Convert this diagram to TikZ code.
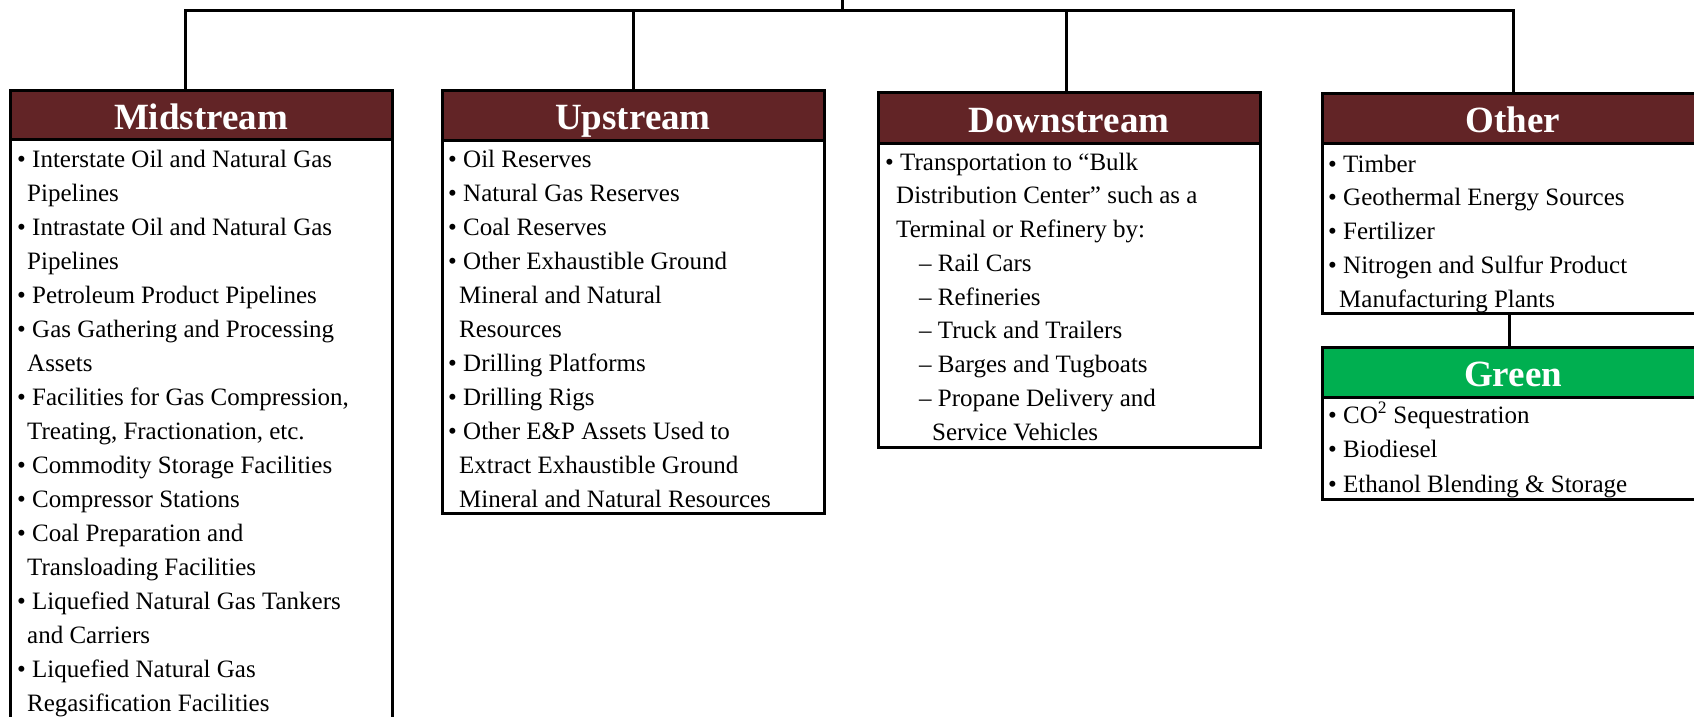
\documentclass[tikz,border=0pt]{standalone}
\usepackage{fontspec}
\setmainfont{Liberation Serif}
\definecolor{hdrred}{HTML}{622426}
\definecolor{hdrgreen}{HTML}{00AF50}
\tikzset{
  boxframe/.style={draw=black, line width=3pt, fill=white, anchor=north west, inner sep=0pt, outer sep=0pt},
  hdr/.style={draw=black, line width=3pt, fill=hdrred, anchor=north west, inner sep=0pt, outer sep=0pt,
    text=white, font=\fontsize{37pt}{40pt}\selectfont\bfseries, text height=29pt, text depth=0pt},
  itemtxt/.style={anchor=base west, inner sep=0pt, font=\fontsize{25pt}{30pt}\selectfont},
  conn/.style={draw=black, line width=3pt},
}
\begin{document}
\begin{tikzpicture}[x=1pt,y=-1pt]
\useasboundingbox (0,0) rectangle (1694,716);
\clip (0,0) rectangle (1694,716);
\fill[white] (0,0) rectangle (1694,716);

% boxes
\node[boxframe, minimum width=382pt, minimum height=650pt] (midbox) at (10,90) {};
\node[hdr, minimum width=382pt, minimum height=49pt] (midhdr) at (10,90) {Midstream};

\node[boxframe, minimum width=382pt, minimum height=423pt] (upbox) at (442,90) {};
\node[hdr, minimum width=382pt, minimum height=50pt] (uphdr) at (442,90) {Upstream};

\node[boxframe, minimum width=382pt, minimum height=355pt] (downbox) at (878,92) {};
\node[hdr, minimum width=382pt, minimum height=51pt] (downhdr) at (878,92) {Downstream};

\node[boxframe, minimum width=382pt, minimum height=220pt] (othbox) at (1322,93) {};
\node[hdr, minimum width=382pt, minimum height=50pt, text depth=1pt] (othhdr) at (1322,93) {Other};

\node[boxframe, minimum width=382pt, minimum height=152pt] (grnbox) at (1322,347) {};
\node[hdr, fill=hdrgreen, minimum width=382pt, minimum height=50pt, text depth=1pt] (grnhdr) at (1322,347) {Green};

% connectors
\coordinate (root) at (842,0);
\coordinate (busL) at (185,10);
\coordinate (busR) at (1513,10);
\coordinate (gx) at (1509,0);
\draw[conn] (root) -- (root |- busL);
\draw[conn, line join=miter] (busL |- midhdr.north) -- (busL) -- (busR) -- (busR |- othhdr.north);
\draw[conn] (uphdr.north) -- (uphdr.north |- busL);
\draw[conn] ([xshift=-3pt]downhdr.north) -- ([xshift=-3pt]downhdr.north |- busL);
\draw[conn] (gx |- othbox.south) -- (gx |- grnhdr.north);

% Midstream items
\foreach [count=\i] \xa/\ta in {
  17/{\textbullet\ Interstate Oil and Natural Gas},
  27/{Pipelines},
  17/{\textbullet\ Intrastate Oil and Natural Gas},
  27/{Pipelines},
  17/{\textbullet\ Petroleum Product Pipelines},
  17/{\textbullet\ Gas Gathering and Processing},
  27/{Assets},
  17/{\textbullet\ Facilities for Gas Compression,},
  27/{Treating, Fractionation, etc.},
  17/{\textbullet\ Commodity Storage Facilities},
  17/{\textbullet\ Compressor Stations},
  17/{\textbullet\ Coal Preparation and},
  27/{Transloading Facilities},
  17/{\textbullet\ Liquefied Natural Gas Tankers},
  27/{and Carriers},
  17/{\textbullet\ Liquefied Natural Gas},
  27/{Regasification Facilities}%
}{\node[itemtxt] (mid-\i) at (\xa,{167+34*(\i-1)}) {\ta};}

% Upstream items
\foreach [count=\i] \xa/\ta in {
  448/{\textbullet\ Oil Reserves},
  448/{\textbullet\ Natural Gas Reserves},
  448/{\textbullet\ Coal Reserves},
  448/{\textbullet\ Other Exhaustible Ground},
  459/{Mineral and Natural},
  459/{Resources},
  448/{\textbullet\ Drilling Platforms},
  448/{\textbullet\ Drilling Rigs},
  448/{\textbullet\ Other E\&P Assets Used to},
  459/{Extract Exhaustible Ground},
  459/{Mineral and Natural Resources}%
}{\node[itemtxt] (up-\i) at (\xa,{167+34*(\i-1)}) {\ta};}

% Downstream items
\foreach [count=\i] \xa/\ta in {
  885/{\textbullet\ Transportation to “Bulk},
  896/{Distribution Center” such as a},
  896/{Terminal or Refinery by:},
  919/{– Rail Cars},
  919/{– Refineries},
  919/{– Truck and Trailers},
  919/{– Barges and Tugboats},
  919/{– Propane Delivery and},
  932/{Service Vehicles}%
}{\node[itemtxt] (down-\i) at (\xa,{170+33.75*(\i-1)}) {\ta};}

% Other items
\foreach [count=\i] \xa/\ta in {
  1328/{\textbullet\ Timber},
  1328/{\textbullet\ Geothermal Energy Sources},
  1328/{\textbullet\ Fertilizer},
  1328/{\textbullet\ Nitrogen and Sulfur Product},
  1339/{Manufacturing Plants}%
}{\node[itemtxt] (oth-\i) at (\xa,{172+33.75*(\i-1)}) {\ta};}

% Green items
\foreach [count=\i] \xa/\ta in {
  1328/{\textbullet\ CO\textsuperscript{2} Sequestration},
  1328/{\textbullet\ Biodiesel},
  1328/{\textbullet\ Ethanol Blending \& Storage}%
}{\node[itemtxt] (grn-\i) at (\xa,{423+34.5*(\i-1)}) {\ta};}
\end{tikzpicture}
\end{document}
